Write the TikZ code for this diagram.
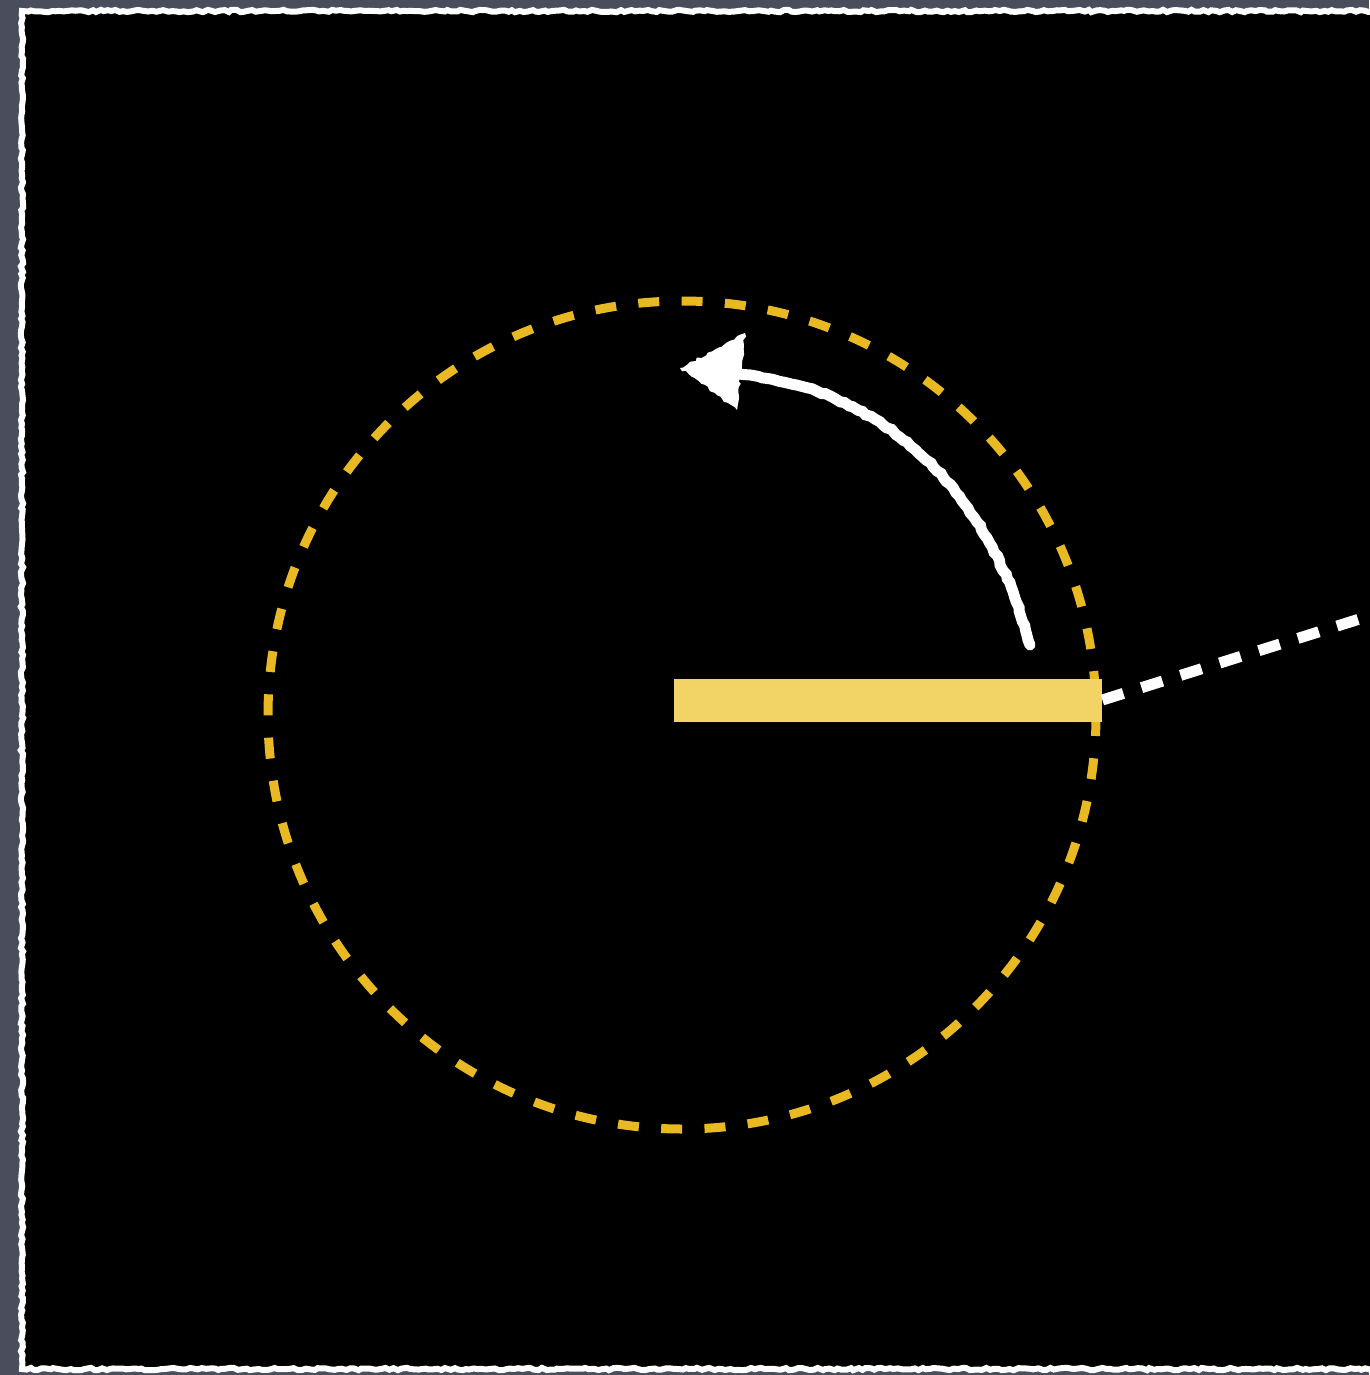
\documentclass[tikz,border=0pt]{standalone}
\usetikzlibrary{decorations.pathmorphing}
\definecolor{board}{HTML}{4A4E5C}
\definecolor{ring}{HTML}{E8B923}
\definecolor{barc}{HTML}{F2D466}
\begin{document}
\begin{tikzpicture}[x=1pt,y=-1pt,
  chalk/.style={draw=white,line width=6pt,decorate,decoration={random steps,segment length=4pt,amplitude=1.2pt}},
  ringstyle/.style={draw=ring,line width=9pt,dash pattern=on 21pt off 22.35pt},
  ptr/.style={draw=white,line width=11pt,dash pattern=on 22pt off 19pt},
  chalkarrow/.style={draw=white,line width=11pt,line cap=round,decorate,decoration={random steps,segment length=5pt,amplitude=1pt}}]
\useasboundingbox (0,0) rectangle (1369,1375);
\fill[board] (0,0) rectangle (1369,1375);
\fill[black] (22,11) rectangle (1375,1369);
\path[chalk] (1380,11) -- (22,11) -- (22,1369) -- (1380,1369);
% dashed ring
\coordinate (c) at (682,715);
\draw[ringstyle] (c) circle[radius=414];
% bar
\node[fill=barc,minimum width=428pt,minimum height=43pt,inner sep=0pt,anchor=west] (bar) at (674,700) {};
% pointer line
\coordinate (far) at (1369,616);
\draw[ptr] (bar.east) -- (far);
% chalk arrow
\coordinate (s) at (1030,645);
\coordinate (e) at (738,374);
\coordinate (tip) at (680,368);
\path[chalkarrow] (s) .. controls (995,510) and (900,390) .. (e);
\fill[white,decorate,decoration={random steps,segment length=4pt,amplitude=1.5pt}] (tip) -- (745,333) -- (737,410) -- cycle;
\end{tikzpicture}
\end{document}
